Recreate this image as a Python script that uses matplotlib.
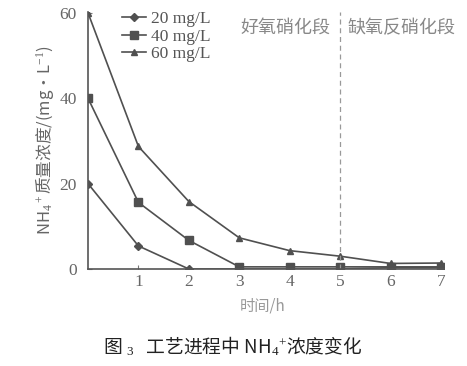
import matplotlib
matplotlib.use("Agg")
import matplotlib.pyplot as plt

time_h = [0, 1, 2, 3, 4, 5, 6, 7]
s20 = [20, 5.4, 0, 0, 0, 0, 0.3, 0.3]
s40 = [40, 15.6, 6.7, 0.5, 0.5, 0.5, 0.5, 0.5]
s60 = [60, 28.7, 15.8, 7.3, 4.3, 3.0, 1.3, 1.4]
labels = ["20 mg/L", "40 mg/L", "60 mg/L"]
xticks = [1, 2, 3, 4, 5, 6, 7]
yticks = [0, 20, 40, 60]

FAM = ["Liberation Serif", "Noto Sans CJK SC"]
CJK = ["Noto Sans CJK SC", "Liberation Serif"]
plt.rcParams["font.family"] = FAM
plt.rcParams["mathtext.fontset"] = "custom"
plt.rcParams["mathtext.rm"] = "Liberation Serif"
plt.rcParams["mathtext.it"] = "Liberation Serif:italic"

fig = plt.figure(figsize=(4.67, 3.66), dpi=100)
ax = fig.add_axes([88/467, 1-269/366, (444-88)/467, (269-12)/366])

lc = "#505050"
ax.plot(time_h, s20, color=lc, lw=1.2, marker="D", ms=4.5, label=labels[0])
ax.plot(time_h, s40, color=lc, lw=1.2, marker="s", ms=5.5, label=labels[1])
ax.plot(time_h, s60, color=lc, lw=1.2, marker="^", ms=4.5, label=labels[2])

ax.set_xlim(0, 7.06)
ax.set_ylim(0, 60.2)
ax.set_xticks(xticks)
ax.set_yticks(yticks)
ax.tick_params(direction="in", length=3, color="#777777", labelcolor="#666666", labelsize=12.5, width=0.8)
ax.tick_params(axis="y", pad=8)
for s in ["top", "right"]:
    ax.spines[s].set_visible(False)
for s in ["left", "bottom"]:
    ax.spines[s].set_color("#555555")
    ax.spines[s].set_linewidth(1.2)

ax.axvline(5, color="#999999", lw=0.9, ls=(0, (4, 3)))
ax.text(4.8, 56.5, "好氧硝化段", family=CJK, fontsize=13, color="#888888", ha="right", va="center")
ax.text(5.15, 56.5, "缺氧反硝化段", family=CJK, fontsize=13, color="#888888", ha="left", va="center")

leg = ax.legend(loc="upper left", bbox_to_anchor=(0.075, 1.03), frameon=False, fontsize=12.5,
                handlelength=1.4, labelspacing=0.08, borderaxespad=0, handletextpad=0.3,
                labelcolor="#555555")

fig.text(45/467, 1-140/366, r"NH$_4$$^+$质量浓度/(mg·L$^{-1}$)", rotation=90, family=CJK,
         fontsize=12, color="#666666", ha="center", va="center")
fig.text(263/467, 1-306/366, "时间/h", family=CJK, fontsize=11, color="#999999", ha="center", va="center")
fig.text(233/467, 1-346/366, r"图 $_3$   工艺进程中 NH$_{4}$$^{+}$浓度变化", family=CJK, fontsize=13.5,
         color="#222222", ha="center", va="center")

fig.savefig("out.png", dpi=100)
